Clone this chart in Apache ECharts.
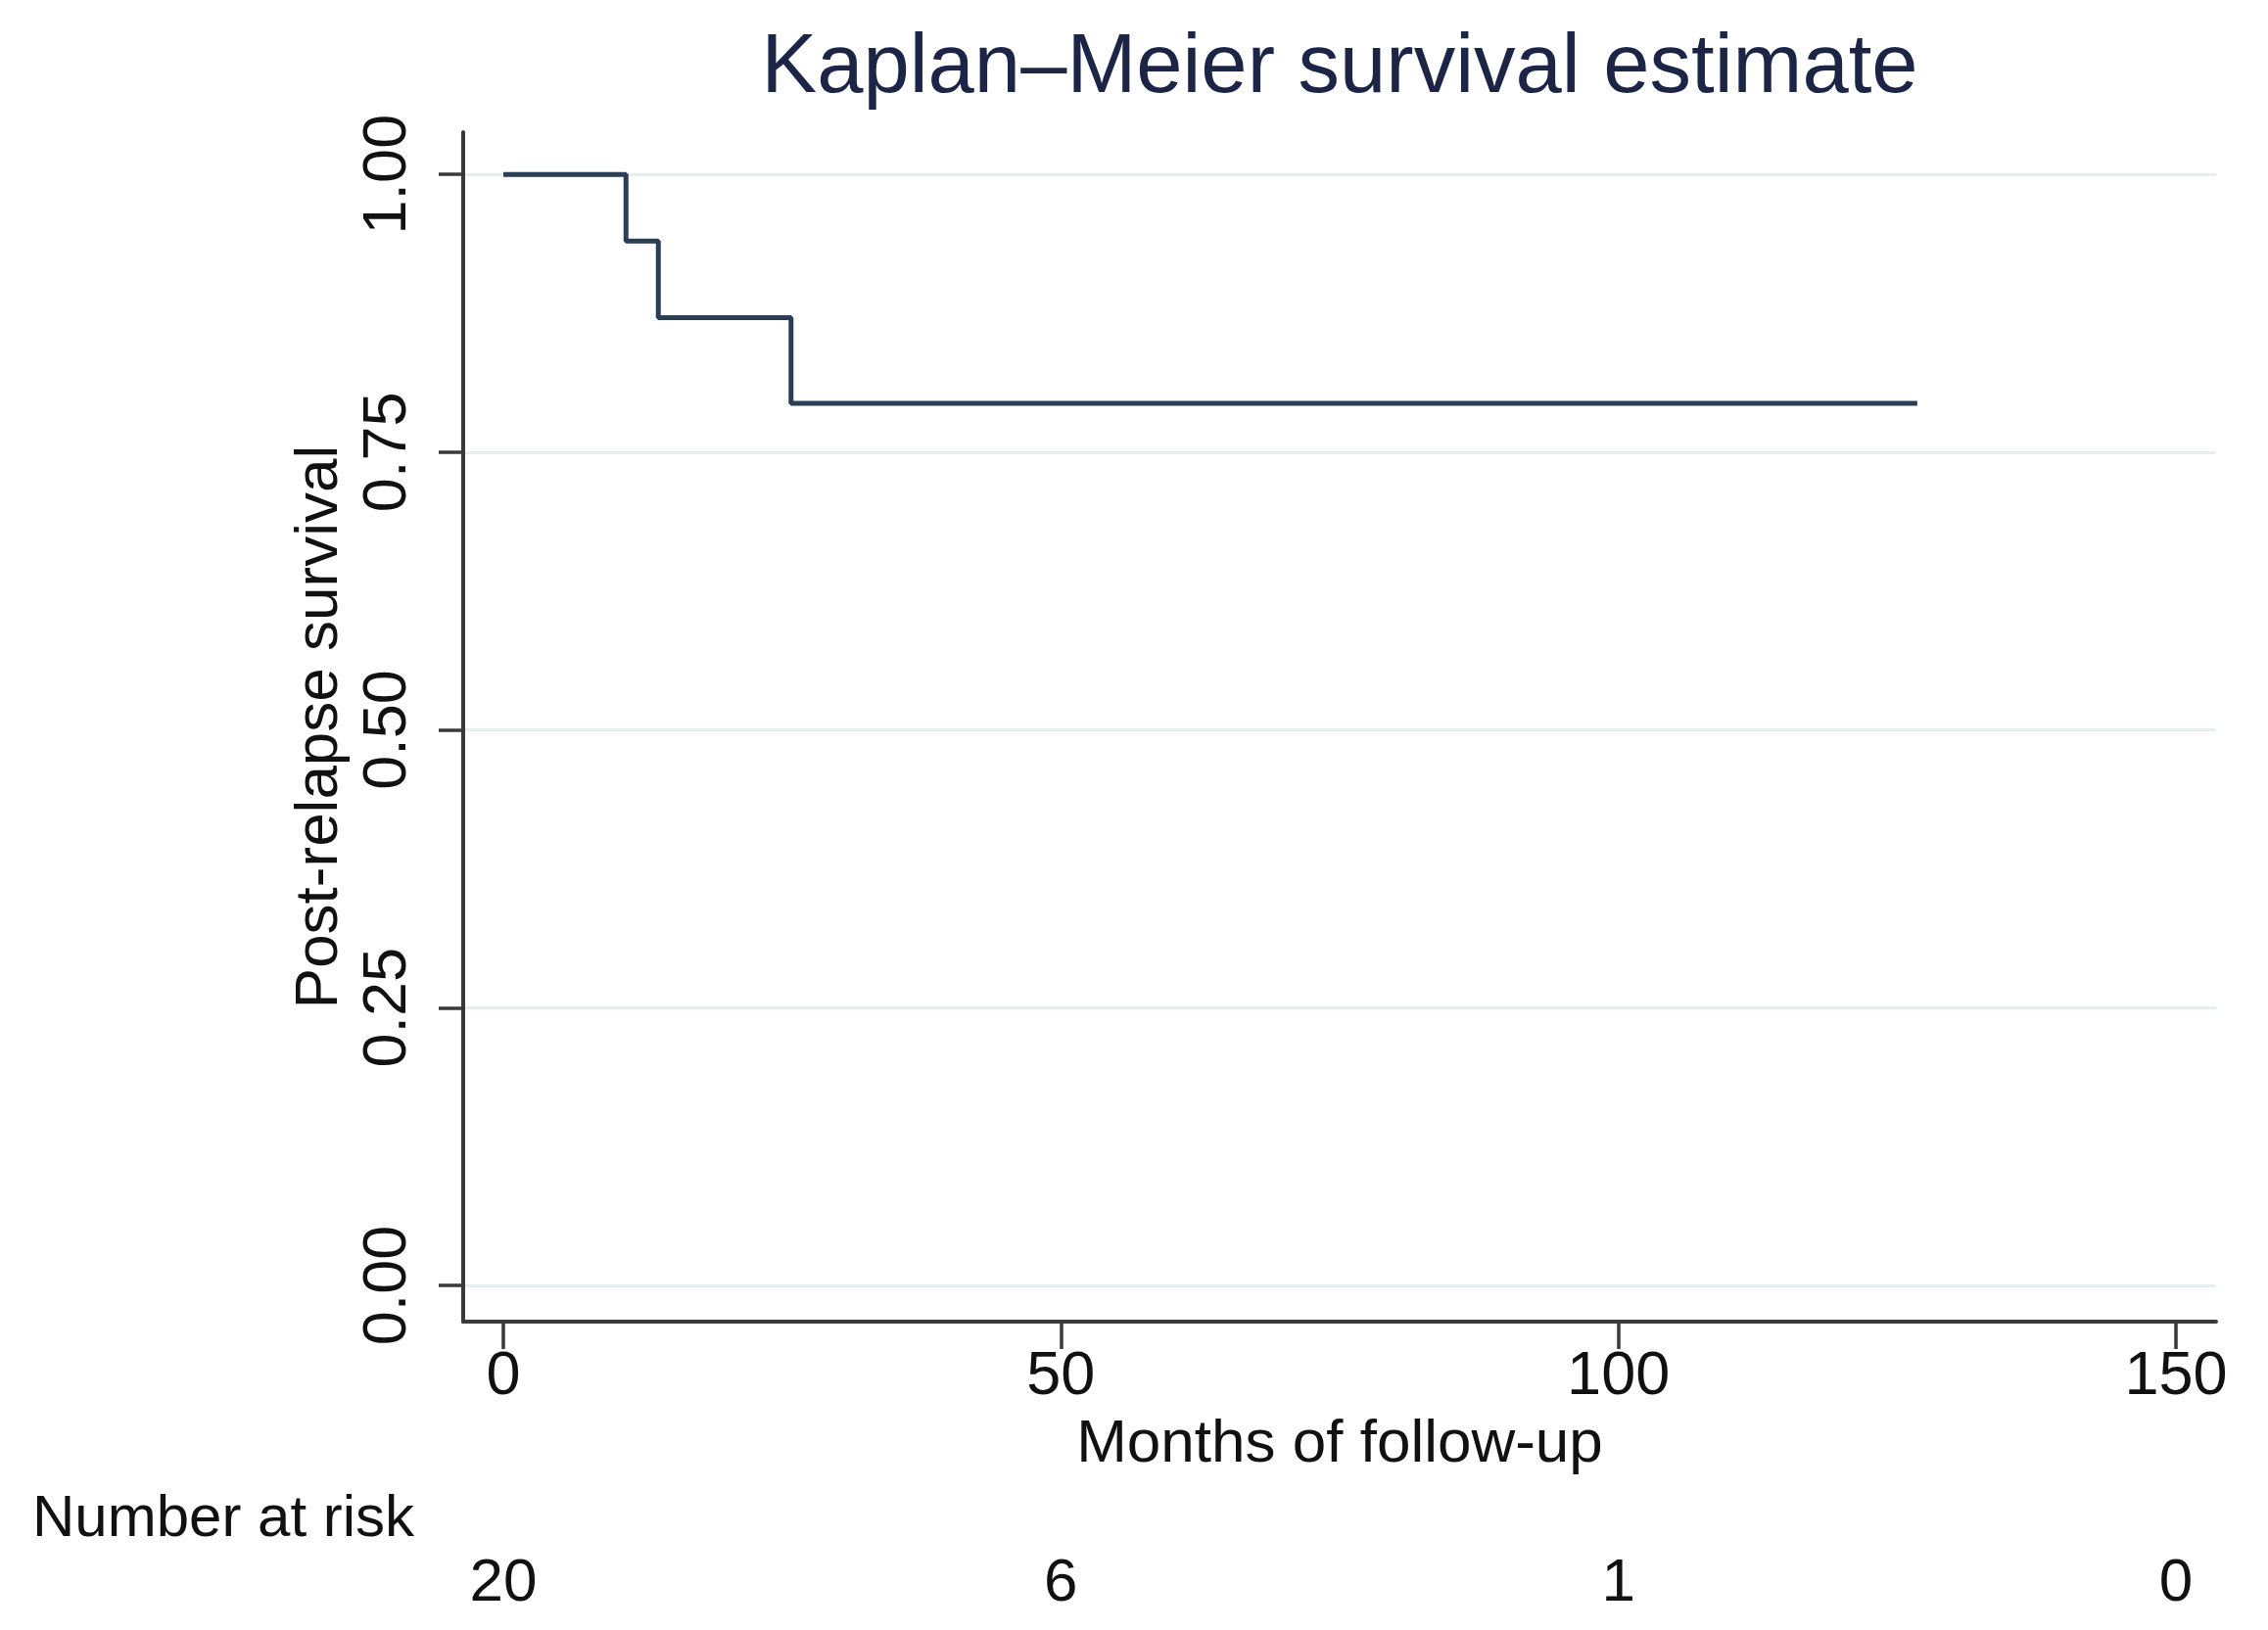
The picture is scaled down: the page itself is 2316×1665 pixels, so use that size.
<!DOCTYPE html>
<html>
<head>
<meta charset="utf-8">
<script src="https://cdn.jsdelivr.net/npm/echarts@6/dist/echarts.min.js"></script>
<style>
html,body{margin:0;padding:0;background:#fff;}
#chart{width:2316px;height:1665px;}
</style>
</head>
<body>
<div id="chart"></div>
<script>
// Kaplan–Meier step data (months, survival)
const times = [0, 11.0, 13.9, 25.8, 126.8];
const survival = [1.0, 0.940, 0.871, 0.794, 0.794];
// axis ticks
const xTicks = [0, 50, 100, 150];
const yTicks = [0, 0.25, 0.5, 0.75, 1];
// number at risk at each x tick
const atRisk = [20, 6, 1, 0];

const FONT = "'Liberation Sans', Arial, Helvetica, sans-serif";
const AXIS_COLOR = '#3a3a3a';

const chart = echarts.init(document.getElementById('chart'), null, {renderer: 'canvas'});
chart.setOption({
  animation: false,
  backgroundColor: '#ffffff',
  textStyle: {fontFamily: FONT},
  title: [
    {
      text: 'Kaplan–Meier survival estimate',
      left: 1368, top: 28, textAlign: 'center', padding: 0,
      textStyle: {fontSize: 85, fontWeight: 'normal', color: '#1c2545', fontFamily: FONT}
    },
    {
      text: 'Number at risk',
      left: 33, top: 1522, padding: 0,
      textStyle: {fontSize: 60, fontWeight: 'normal', color: '#111111', fontFamily: FONT}
    }
  ],
  grid: {left: 473, right: 53, top: 135, bottom: 315, containLabel: false},
  xAxis: [
    {
      type: 'value', min: -3.6, max: 153.6,
      name: 'Months of follow-up', nameLocation: 'middle', nameGap: 126,
      nameTextStyle: {fontSize: 62, color: '#111111', fontFamily: FONT, verticalAlign: 'middle'},
      axisLine: {show: true, onZero: false, lineStyle: {color: AXIS_COLOR, width: 4}},
      axisTick: {show: true, customValues: xTicks, length: 28, lineStyle: {color: AXIS_COLOR, width: 3.5}},
      axisLabel: {customValues: xTicks, margin: 57, verticalAlign: 'middle', fontSize: 63, color: '#111111', fontFamily: FONT},
      splitLine: {show: false}
    },
    {
      type: 'value', min: -3.6, max: 153.6, position: 'bottom', offset: 268,
      axisLine: {show: false}, axisTick: {show: false}, splitLine: {show: false},
      axisLabel: {
        customValues: xTicks, margin: 0, verticalAlign: 'middle', fontSize: 62, color: '#111111', fontFamily: FONT,
        formatter: function (v) { const i = xTicks.indexOf(v); return i >= 0 ? String(atRisk[i]) : ''; }
      }
    }
  ],
  yAxis: {
    type: 'value', min: -0.0326, max: 1.038,
    name: 'Post-relapse survival', nameLocation: 'middle', nameGap: 143,
    nameTextStyle: {fontSize: 62, color: '#111111', fontFamily: FONT, align: 'center', verticalAlign: 'middle'},
    axisLine: {show: true, onZero: false, lineStyle: {color: AXIS_COLOR, width: 4}},
    axisTick: {show: true, customValues: yTicks, length: 25, lineStyle: {color: AXIS_COLOR, width: 3.5}},
    axisLabel: {
      customValues: yTicks, rotate: 90, margin: 76, align: 'center', verticalAlign: 'middle',
      fontSize: 63, color: '#111111', fontFamily: FONT,
      formatter: function (v) { return v.toFixed(2); }
    },
    splitLine: {show: true, lineStyle: {color: '#e6eef0', width: 3}}
  },
  series: [{
    type: 'line',
    xAxisIndex: 0,
    step: 'end',
    symbol: 'none',
    lineStyle: {color: '#2a3e56', width: 5},
    data: times.map((t, i) => [t, survival[i]])
  }]
});
</script>
</body>
</html>
